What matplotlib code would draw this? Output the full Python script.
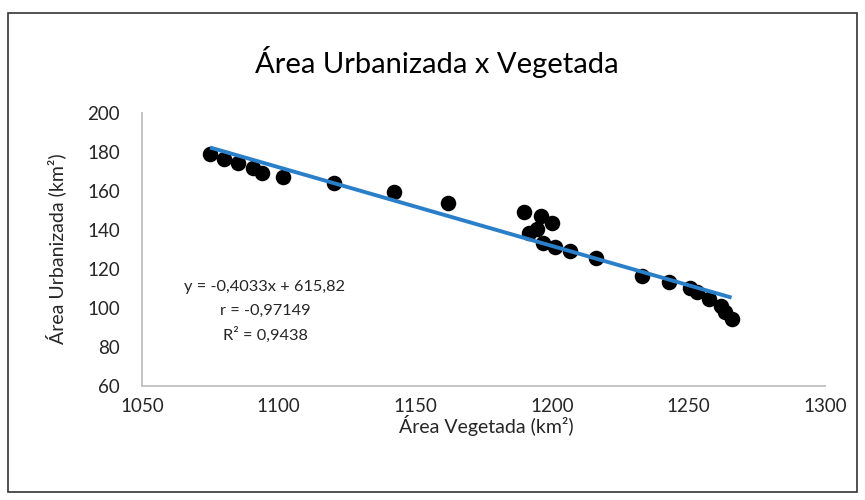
import matplotlib
matplotlib.use("Agg")
import matplotlib.pyplot as plt
from matplotlib.patches import Rectangle
import numpy as np

plt.rcParams['font.family'] = ['Lato', 'DejaVu Sans']

# Data
area_vegetada = [1074.9, 1080.1, 1085.0, 1090.7, 1093.8, 1101.7, 1120.3, 1142.2, 1162.1,
                 1190.0, 1195.9, 1200.0, 1191.8, 1194.5, 1196.9, 1201.2, 1206.7, 1216.2,
                 1232.9, 1243.0, 1250.6, 1253.0, 1257.5, 1261.8, 1263.4, 1265.8]
area_urbanizada = [179.0, 176.3, 174.5, 171.9, 169.4, 167.2, 163.9, 159.3, 153.8,
                   149.4, 147.2, 143.4, 138.6, 140.5, 133.2, 131.4, 129.2, 125.5,
                   116.4, 113.5, 110.1, 108.4, 104.5, 101.0, 98.1, 94.2]
slope = -0.4033
intercept = 615.82
eq_lines = ["y = -0,4033x + 615,82", "r = -0,97149", "R\u00b2 = 0,9438"]
x_ticks = [1050, 1100, 1150, 1200, 1250, 1300]
y_ticks = [60, 80, 100, 120, 140, 160, 180, 200]

fig = plt.figure(figsize=(8.65, 5.0), dpi=100)
ax = fig.add_axes([142/865, 1-386/500, (825-142)/865, (386-113)/500])

ax.scatter(area_vegetada, area_urbanizada, s=125, color='black', zorder=2, linewidths=0)
xl = np.array([min(area_vegetada), max(area_vegetada)])
ax.plot(xl, slope*xl + intercept, color='#2A7FC9', linewidth=2.8, zorder=3, solid_capstyle='butt')

ax.set_xlim(1050, 1300)
ax.set_ylim(60, 200)
ax.set_xticks(x_ticks)
ax.set_yticks(y_ticks)
ax.tick_params(axis='both', length=0, labelsize=13.5, colors='#262626')
ax.tick_params(axis='y', pad=16)
ax.tick_params(axis='x', pad=9)
for s in ['top', 'right']:
    ax.spines[s].set_visible(False)
for s in ['left', 'bottom']:
    ax.spines[s].set_color('#BFBFBF')
    ax.spines[s].set_linewidth(1.3)

fig.text(437/865, 1-62/500, "\u00c1rea Urbanizada x Vegetada", ha='center', va='center',
         fontsize=21, color='black')
fig.text(486/865, 1-426/500, "\u00c1rea Vegetada (km\u00b2)", ha='center', va='center',
         fontsize=14, color='#262626')
fig.text(56/865, 1-249/500, "\u00c1rea Urbanizada (km\u00b2)", ha='center', va='center',
         fontsize=14, color='#262626', rotation=90)

for i, t in enumerate(eq_lines):
    fig.text(265/865, 1-(287+24*i)/500, t, ha='center', va='center', fontsize=11.8, color='#262626')

fig.patches.append(Rectangle((8/865, 1-492/500), (857-8)/865, (492-13)/500,
                             transform=fig.transFigure, fill=False, edgecolor='#333333',
                             linewidth=1.2))

fig.savefig("out.png", dpi=100)
